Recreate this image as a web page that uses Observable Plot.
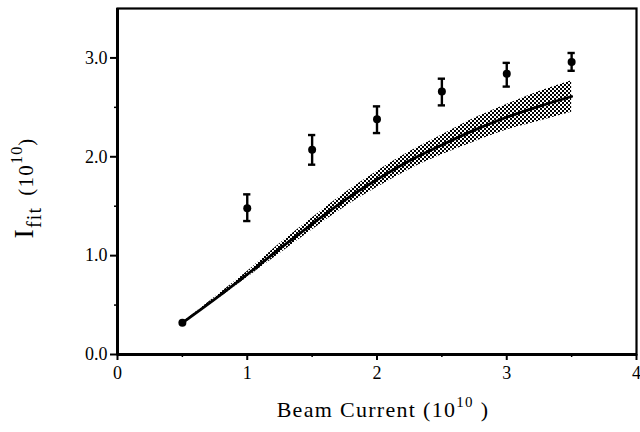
<!DOCTYPE html>
<html>
<head>
<meta charset="utf-8">
<script src="https://cdn.jsdelivr.net/npm/d3@7"></script>
<script src="https://cdn.jsdelivr.net/npm/@observablehq/plot@0.6"></script>
<style>
  html, body { margin: 0; padding: 0; background: #fff; }
  #chart svg { display: block; }
</style>
</head>
<body>
<div id="chart"></div>
<script>
// Measured points (Beam Current, I_fit, error bar low/high) in units of 1e10
const beamX = [0.5, 1.0, 1.5, 2.0, 2.5, 3.0, 3.5];
const fitY  = [0.32, 1.48, 2.07, 2.38, 2.66, 2.84, 2.96];
const errLo = [0.32, 1.35, 1.92, 2.24, 2.52, 2.71, 2.87];
const errHi = [0.32, 1.62, 2.22, 2.51, 2.79, 2.95, 3.05];
const hasErr = [false, true, true, true, true, true, true];

// Model curve with uncertainty band
const curveX  = [0.5, 0.75, 1.0, 1.25, 1.5, 1.75, 2.0, 2.25, 2.5, 2.75, 3.0, 3.25, 3.5];
const curveY  = [0.32, 0.56, 0.81, 1.07, 1.32, 1.56, 1.77, 1.96, 2.12, 2.27, 2.40, 2.51, 2.61];
const curveLo = [0.32, 0.54, 0.78, 1.02, 1.26, 1.49, 1.69, 1.87, 2.02, 2.15, 2.27, 2.36, 2.45];
const curveHi = [0.32, 0.58, 0.84, 1.12, 1.38, 1.63, 1.85, 2.05, 2.22, 2.39, 2.53, 2.66, 2.77];

const xMajor = [0, 1, 2, 3, 4];
const xMinor = [0.5, 1.5, 2.5, 3.5];
const yMajor = [0, 1, 2, 3];
const yMinor = [0.5, 1.5, 2.5];

const points = beamX.map((x, i) => ({x, y: fitY[i], lo: errLo[i], hi: errHi[i], err: hasErr[i]}));
const bars = points.filter(d => d.err);
const curve = curveX.map((x, i) => ({x, y: curveY[i], lo: curveLo[i], hi: curveHi[i]}));

const serif = "'Liberation Serif', 'Times New Roman', Times, serif";
const capHalf = 0.028;

const defsMark = () => {
  const defs = d3.create("svg:defs");
  const p = defs.append("pattern").attr("id", "dotfill").attr("patternUnits", "userSpaceOnUse")
    .attr("width", 4).attr("height", 4);
  p.append("rect").attr("x", 0).attr("y", 0).attr("width", 4).attr("height", 4).attr("fill", "#fff");
  p.append("rect").attr("x", 0).attr("y", 0).attr("width", 2).attr("height", 2).attr("fill", "#000");
  p.append("rect").attr("x", 2).attr("y", 2).attr("width", 2).attr("height", 2).attr("fill", "#000");
  return defs.node();
};

const yTitle = () => {
  const g = d3.create("svg:g");
  const t = g.append("text")
    .attr("transform", "translate(33,188) rotate(-90)")
    .attr("text-anchor", "middle")
    .attr("font-family", serif)
    .attr("font-size", 28)
    .attr("letter-spacing", 1.2)
    .attr("fill", "#000");
  t.append("tspan").text("I");
  t.append("tspan").attr("font-size", 20).attr("dy", 8).text("fit");
  t.append("tspan").attr("font-size", 21).attr("dy", -8).attr("dx", 11).text("(10");
  t.append("tspan").attr("font-size", 16).attr("dy", -11).text("10");
  t.append("tspan").attr("font-size", 21).attr("dy", 11).text(")");
  return g.node();
};

const xTitle = () => {
  const g = d3.create("svg:g");
  const t = g.append("text")
    .attr("x", 383).attr("y", 417)
    .attr("text-anchor", "middle")
    .attr("font-family", serif)
    .attr("font-size", 22)
    .attr("letter-spacing", 1.3)
    .attr("fill", "#000");
  t.append("tspan").text("Beam Current (10");
  t.append("tspan").attr("font-size", 15).attr("dy", -10).text("10");
  t.append("tspan").attr("dy", 10).text(" )");
  return g.node();
};

const chart = Plot.plot({
  width: 640,
  height: 432,
  marginLeft: 117,
  marginRight: 4,
  marginTop: 8,
  marginBottom: 78,
  style: {fontFamily: serif, fontSize: "18px", color: "#000", background: "#fff"},
  x: {domain: [0, 4]},
  y: {domain: [0, 3.5]},
  marks: [
    defsMark,
    Plot.areaY(curve, {x: "x", y1: "lo", y2: "hi", fill: "url(#dotfill)", curve: "monotone-x"}),
    Plot.line(curve, {x: "x", y: "y", stroke: "#000", strokeWidth: 2.8, curve: "monotone-x"}),
    Plot.ruleX(bars, {x: "x", y1: "lo", y2: "hi", stroke: "#000", strokeWidth: 2.4}),
    Plot.ruleY(bars, {y: "hi", x1: d => d.x - capHalf, x2: d => d.x + capHalf, stroke: "#000", strokeWidth: 2.4}),
    Plot.ruleY(bars, {y: "lo", x1: d => d.x - capHalf, x2: d => d.x + capHalf, stroke: "#000", strokeWidth: 2.4}),
    Plot.dot(points, {x: "x", y: "y", r: 4, fill: "#000", stroke: "none"}),
    Plot.axisX(xMajor, {tickSize: 6, tickPadding: 6, strokeWidth: 2, tickFormat: d => String(d), fontSize: 18, label: null}),
    Plot.axisX(xMinor, {tickSize: 3, strokeWidth: 1.5, tickFormat: () => "", label: null}),
    Plot.axisY(yMajor, {tickSize: 7, tickPadding: 3, strokeWidth: 2, tickFormat: d => d.toFixed(1), fontSize: 18, label: null}),
    Plot.axisY(yMinor, {tickSize: 3, strokeWidth: 1.5, tickFormat: () => "", label: null}),
    Plot.frame({stroke: "#000", strokeWidth: 2.2}),
    Plot.ruleX([0], {stroke: "#000", strokeWidth: 3}),
    Plot.ruleY([0], {stroke: "#000", strokeWidth: 3}),
    yTitle,
    xTitle
  ]
});

document.getElementById("chart").appendChild(chart);
</script>
</body>
</html>
